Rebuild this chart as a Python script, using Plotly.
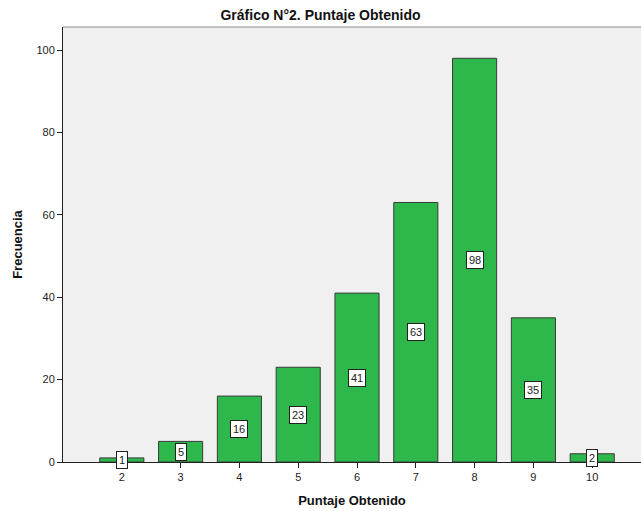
import plotly.graph_objects as go

categories = [2, 3, 4, 5, 6, 7, 8, 9, 10]
frequencies = [1, 5, 16, 23, 41, 63, 98, 35, 2]
y_ticks = [0, 20, 40, 60, 80, 100]

FONT = "Liberation Sans, Arial, sans-serif"

fig = go.Figure()
fig.add_trace(go.Bar(
    x=categories, y=frequencies, width=0.75,
    marker=dict(color="#2eb84b", line=dict(color="#3a3a3a", width=1)),
    hoverinfo="x+y",
))

for c, v in zip(categories, frequencies):
    fig.add_annotation(
        x=c, y=v / 2, text=str(v), showarrow=False,
        font=dict(family=FONT, size=11, color="#222"),
        bgcolor="white", bordercolor="#222", borderwidth=1, borderpad=2,
    )

fig.add_shape(type="line", xref="paper", yref="paper", x0=0, x1=1, y0=1, y1=1,
              line=dict(color="#888", width=1))

fig.update_layout(
    width=641, height=511,
    margin=dict(l=63, r=0, t=27, b=49),
    paper_bgcolor="white", plot_bgcolor="#f0f0f0",
    showlegend=False,
    title=dict(text="<b>Gráfico N°2. Puntaje Obtenido</b>", x=0.5, xanchor="center",
               y=0.97, yanchor="middle",
               font=dict(family=FONT, size=14, color="#111")),
    font=dict(family=FONT, size=11, color="#222"),
    bargap=0.25,
)
fig.update_xaxes(
    range=[1.0, 10.83], tickvals=categories, ticktext=[str(c) for c in categories],
    showgrid=False, zeroline=False, showline=True, linecolor="#222", linewidth=1,
    ticks="outside", ticklen=5, tickcolor="#222",
    title=dict(text="<b>Puntaje Obtenido</b>", font=dict(family=FONT, size=13, color="#111"), standoff=13),
)
fig.update_yaxes(
    range=[0, 105.6], tickvals=y_ticks,
    showgrid=False, zeroline=False, showline=True, linecolor="#222", linewidth=1,
    ticks="outside", ticklen=5, tickcolor="#222",
    title=dict(text="<b>Frecuencia</b>", font=dict(family=FONT, size=13, color="#111"), standoff=10),
)

fig.write_html("out.html", config={"displayModeBar": False},
               post_script="document.body.style.margin='0';document.body.style.padding='0';")
